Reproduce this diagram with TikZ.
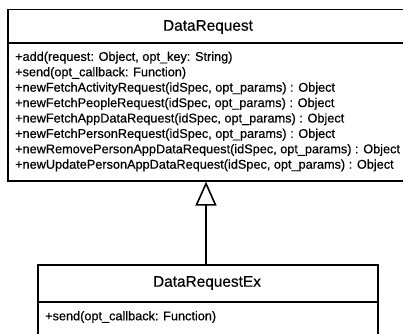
\documentclass[tikz,border=0pt]{standalone}
\usepackage{fontspec}
\setmainfont{Liberation Sans}[FakeBold=0.4]
\usetikzlibrary{arrows.meta}
\tikzset{
  classbox/.style={draw=black, line width=1.6pt, fill=white, inner sep=0pt, anchor=north west},
  classname/.style={font=\fontsize{15.4}{18}\selectfont, inner sep=0pt},
  members/.style={font=\fontsize{12.7}{15.4}\selectfont, align=left, inner sep=0pt, anchor=west},
  divider/.style={line width=1.6pt},
  inherits/.style={line width=1.6pt, -{Triangle[open, length=24pt, width=21pt]}}
}
\begin{document}
\begin{tikzpicture}[x=1pt, y=-1pt]
  \useasboundingbox (0,0) rectangle (403,333);
  \clip (0,0) rectangle (403,333);
  % superclass
  \node[classbox, minimum width=410pt, minimum height=171.3pt] (base) at (7,8.7) {};
  \draw[divider] (7,43) -- (417,43);
  \node[classname] (basename) at (208,27) {DataRequest};
  \node[members] (basemembers) at (15,111.5) {%
    +add(request: Object, opt\_key: String)\\
    +send(opt\_callback: Function)\\
    +newFetchActivityRequest(idSpec, opt\_params) : Object\\
    +newFetchPeopleRequest(idSpec, opt\_params) : Object\\
    +newFetchAppDataRequest(idSpec, opt\_params) : Object\\
    +newFetchPersonRequest(idSpec, opt\_params) : Object\\
    +newRemovePersonAppDataRequest(idSpec, opt\_params) : Object\\
    +newUpdatePersonAppDataRequest(idSpec, opt\_params) : Object};
  % subclass
  \node[classbox, minimum width=340pt, minimum height=90pt] (ext) at (37,264) {};
  \draw[divider] (ext.west |- 0,302) -- (ext.east |- 0,302);
  \node[classname] (extname) at (207,283) {DataRequestEx};
  \node[members] (extmembers) at (45,317) {+send(opt\_callback: Function)};
  % generalization
  \draw[inherits] (ext.north -| 206,0) -- (base.south -| 206,0);
\end{tikzpicture}
\end{document}
